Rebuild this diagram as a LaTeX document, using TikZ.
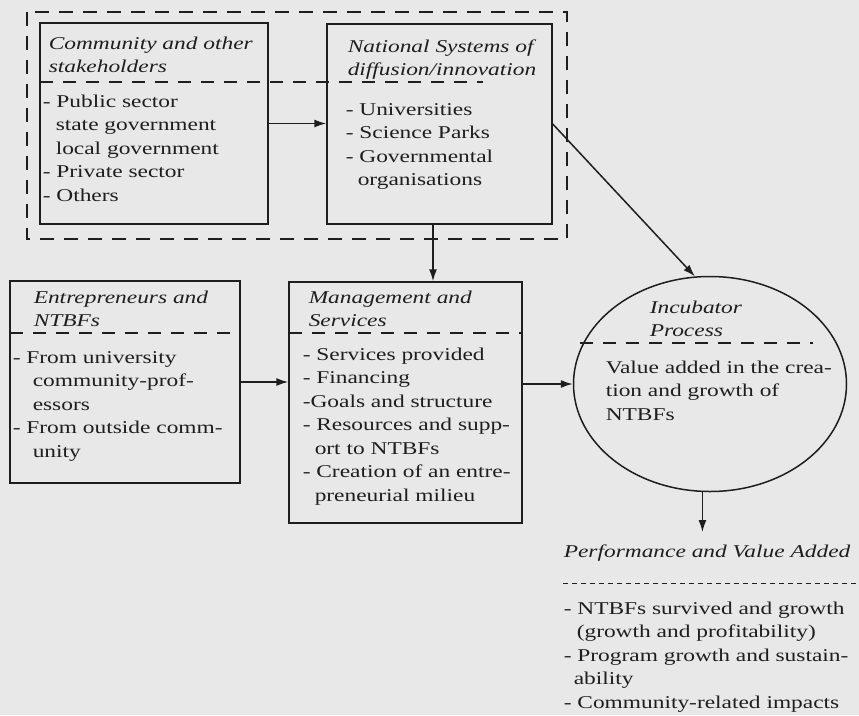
\documentclass[tikz,border=0pt]{standalone}
\usepackage{fontspec}
\setmainfont[FakeStretch=1.3]{Liberation Serif}
\usetikzlibrary{shapes.geometric,arrows.meta}
\definecolor{scangray}{RGB}{232,232,232}
\definecolor{ink}{RGB}{30,30,30}
\newcommand{\diagfont}{\fontsize{18}{23.5}\selectfont}

\begin{document}
\begin{tikzpicture}[x=1pt,y=-1pt,
  line width=1.5pt,draw=ink,text=ink,
  main box/.style={draw,rectangle,inner sep=0pt},
  main oval/.style={draw,ellipse,inner sep=0pt},
  head/.style={anchor=base west,align=left,inner sep=0pt,font=\diagfont\itshape},
  body/.style={anchor=base west,align=left,inner sep=0pt,font=\diagfont},
  divider/.style={dash pattern=on 13pt off 10pt},
  arr/.style={-{Latex[length=12pt,width=8pt]}}]

  \fill[scangray] (0,0) rectangle (859,715);
  \useasboundingbox (0,0) rectangle (859,715);

  % surrounding of the first two blocks
  \draw[dash pattern=on 14pt off 10pt,line width=1.6pt] (27,12) rectangle (567,239);

  \node[main box,minimum width=228pt,minimum height=201pt] (comm) at (154,123.5) {};
  \node[main box,minimum width=225pt,minimum height=200pt] (nat) at (439.5,124) {};
  \node[main box,minimum width=230pt,minimum height=202pt] (entr) at (125,382) {};
  \node[main box,minimum width=233pt,minimum height=241pt] (mgmt) at (405.5,402.5) {};
  \node[main oval,minimum width=273pt,minimum height=215pt] (incub) at (710,384) {};
  \coordinate (perftop) at (702,532);

  % dividers
  \draw[divider] (40,82) -- (483,82);
  \draw[divider] (10,333) -- (240,333);
  \draw[divider] (289,333) -- (522,333);
  \draw[divider] (580,343) -- (813,343);
  \draw[dash pattern=on 5pt off 4pt,line width=0.8pt] (563,583) -- (859,583);

  % texts, placed on the baseline of their last line
  \node[head] (commhead) at (48,72.5) {Community and other\\stakeholders};
  \node[body] (commbody) at (42,201) {- Public sector\\\hspace*{13pt}state government\\\hspace*{13pt}local government\\- Private sector\\- Others};
  \node[head] (nathead) at (347,75.5) {National Systems of\\diffusion/innovation};
  \node[body] (natbody) at (345,185.5) {- Universities\\- Science Parks\\- Governmental\\\hspace*{12pt}organisations};
  \node[head] (entrhead) at (33,326.5) {Entrepreneurs and\\NTBFs};
  \node[body] (entrbody) at (12,457) {- From university\\\hspace*{20pt}community-prof-\\\hspace*{20pt}essors\\- From outside comm-\\\hspace*{20pt}unity};
  \node[head] (mgmthead) at (308,326.5) {Management and\\Services};
  \node[body] (mgmtbody) at (302,501) {- Services provided\\- Financing\\-Goals and structure\\- Resources and supp-\\\hspace*{12pt}ort to NTBFs\\- Creation of an entre-\\\hspace*{12pt}preneurial milieu};
  \node[head] (incubhead) at (649,336.5) {Incubator\\Process};
  \node[body] (incubbody) at (605,420) {Value added in the crea-\\tion and growth of\\NTBFs};
  \node[head] (perfhead) at (563,557) {Performance and Value Added};
  \node[body] (perfbody) at (563,708) {- NTBFs survived and growth\\\hspace*{13pt}(growth and profitability)\\- Program growth and sustain-\\\hspace*{10pt}ability\\- Community-related impacts};

  % arrows
  \draw[arr] (comm.east) -- (comm.east -| nat.west);
  \draw[arr] ([xshift=-6.5pt]nat.south) coordinate (drop) -- (drop |- mgmt.north);
  \draw[arr] (nat.east) -- (incub.98);
  \draw[arr] (entr.east) -- (entr.east -| mgmt.west);
  \draw[arr] (mgmt.east |- incub.west) -- (incub.west);
  \draw[arr] (incub.266) -- (incub.266 |- perftop);
\end{tikzpicture}
\end{document}
